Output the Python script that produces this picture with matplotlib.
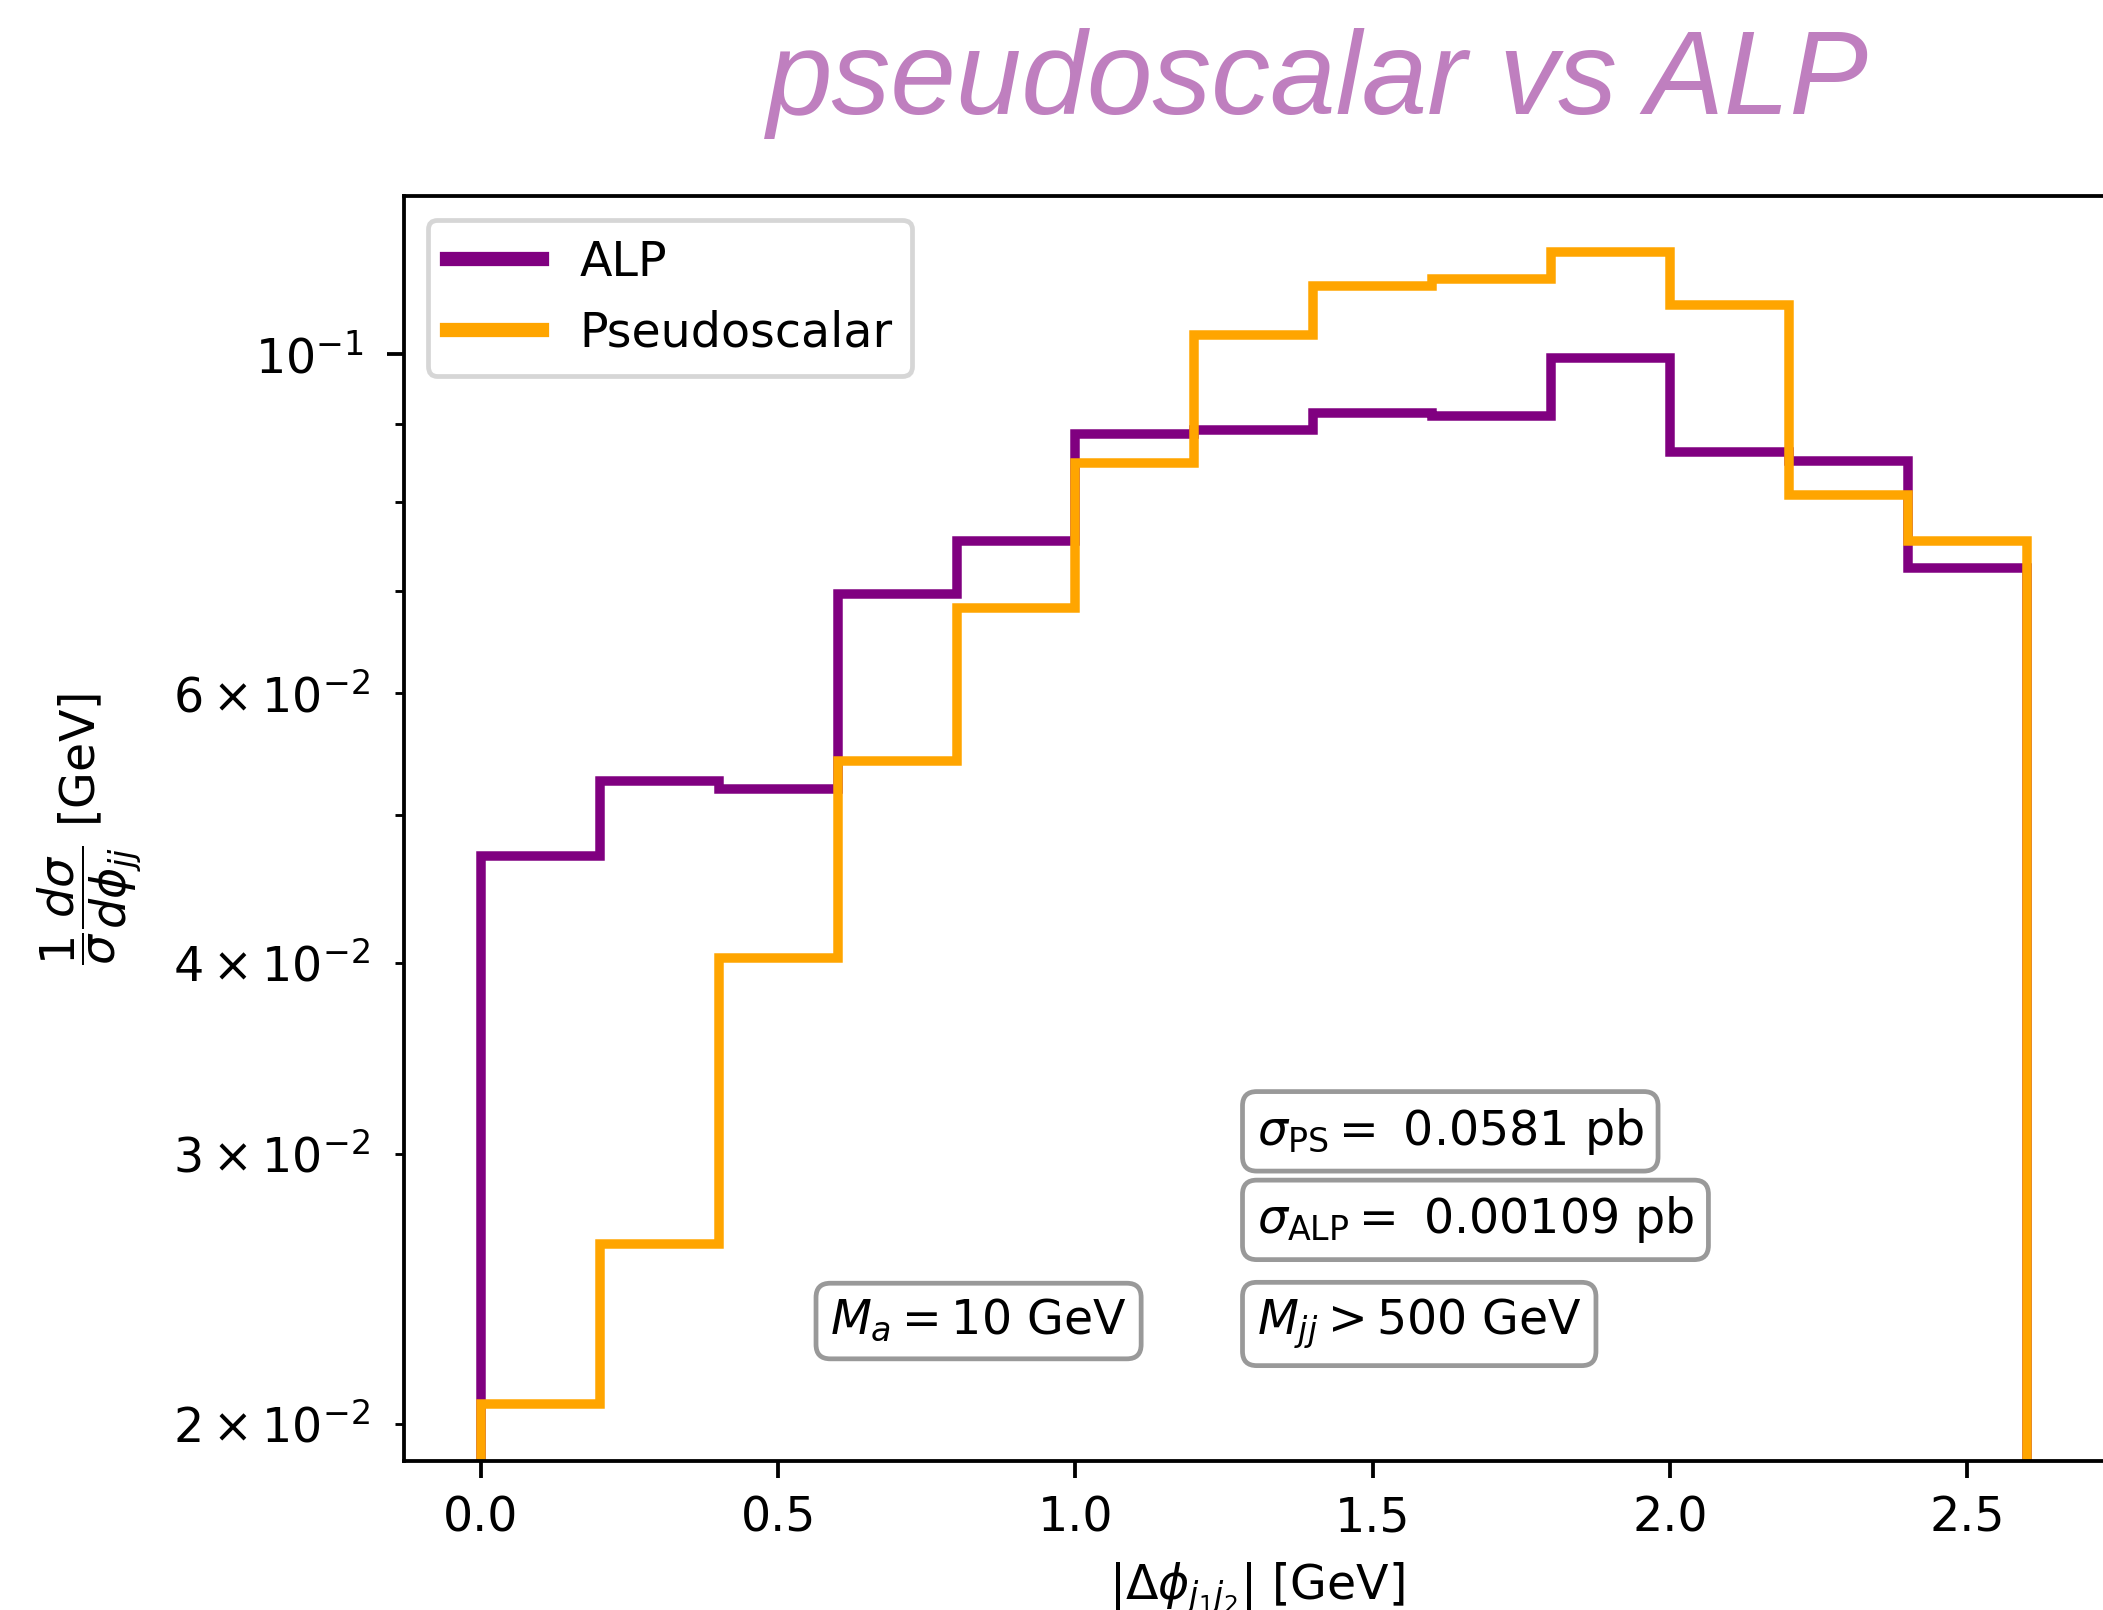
import numpy as np
import matplotlib
matplotlib.use("Agg")
import matplotlib.pyplot as plt
from matplotlib.lines import Line2D

# bin edges in |delta phi_jj| and normalised bin contents (sum to 1)
edges = np.round(np.arange(0.0, 2.61, 0.2), 2)
alp = [0.0470, 0.0526, 0.0520, 0.0697, 0.0755, 0.0886, 0.0892,
       0.0915, 0.0911, 0.0994, 0.0863, 0.0851, 0.0724]
pseudoscalar = [0.0206, 0.0262, 0.0403, 0.0542, 0.0682, 0.0848, 0.1029,
                0.1108, 0.1119, 0.1166, 0.1076, 0.0809, 0.0754]
labels = ["ALP", "Pseudoscalar"]
colors = ["purple", "orange"]

info = [(0.5, 0.25, r"$\sigma_{\rm PS} = $ 0.0581 pb"),
        (0.5, 0.18, r"$\sigma_{\rm ALP} = $ 0.00109 pb"),
        (0.5, 0.10, r"$M_{jj} > 500$ GeV"),
        (0.25, 0.10, r"$M_a = 10$ GeV")]

DPI = 342
fig = plt.figure(figsize=(2103 / DPI, 1610 / DPI), dpi=DPI)
# right spine sits just past the edge of the canvas, as in the original crop
ax = fig.add_axes([0.1920, 0.0925, 0.8112, 0.7857])

for vals, col in zip([alp, pseudoscalar], colors):
    ax.stairs(vals, edges, baseline=1e-3, color=col, lw=2)

ax.set_yscale("log")
ax.set_xlim(-0.13, 2.74)
ax.set_ylim(0.01891, 0.12675)
ax.tick_params(axis="y", which="both", pad=5)

ax.set_xlabel(r"$|\Delta\phi_{j_1j_2}|$ [GeV]")
ax.set_ylabel(r"$\dfrac{1}{\sigma}\dfrac{d\sigma}{d\phi_{jj}}$ [GeV]")
ax.yaxis.set_label_coords(-0.152, 0.5)

handles = [Line2D([], [], color=c, lw=3) for c in colors]
ax.legend(handles, labels, loc="upper left")

for x, y, s in info:
    ax.text(x, y, s, transform=ax.transAxes,
            bbox=dict(boxstyle="round", facecolor="white", edgecolor="#999999"))

fig.text(0.6265, 0.9292, "pseudoscalar vs ALP", ha="center", va="baseline",
         fontsize=24.8, color="purple", alpha=0.5,
         family="Liberation Sans", style="italic")

fig.savefig("out.png", dpi=DPI)
